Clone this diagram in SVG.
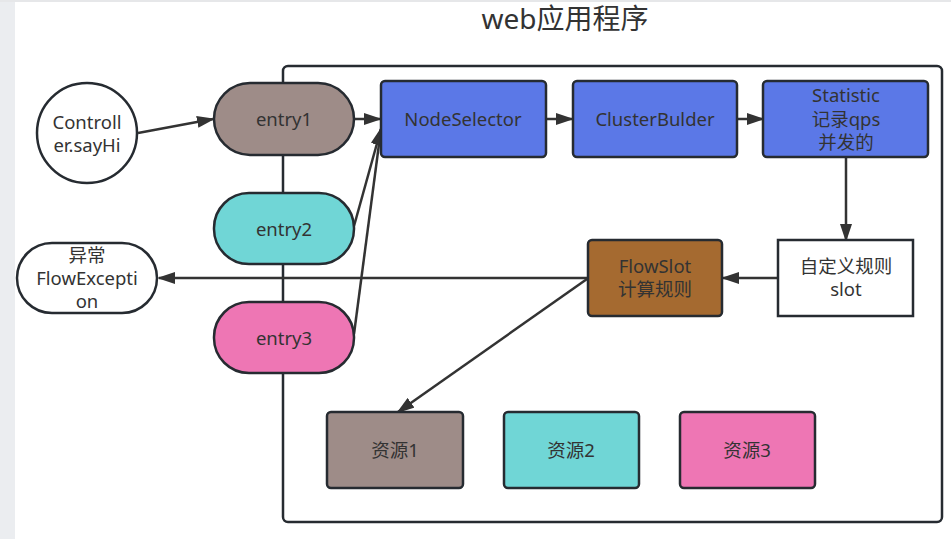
<svg xmlns="http://www.w3.org/2000/svg" width="951" height="539" viewBox="0 0 951 539">
<style>
.n{stroke:#262b31;stroke-width:2.5}
.t{font-family:"Noto Sans","Noto Sans CJK SC",sans-serif;font-size:18.5px;fill:#333;text-anchor:middle}
.c{stroke:#333;stroke-width:2.5;fill:none}
</style>
<defs>
<marker id="ah2" markerWidth="18" markerHeight="12" refX="16" refY="6" orient="auto" markerUnits="userSpaceOnUse" viewBox="0 0 18 12">
<path d="M0,0 L18,6 L0,12 Z" fill="#333"/>
</marker>
</defs>
<rect x="0" y="0" width="951" height="539" fill="#fff"/>
<rect x="0" y="0" width="15" height="539" fill="#ebedf0"/>
<rect x="0" y="0" width="951" height="2" fill="#e6e7e9"/>
<text x="565" y="29" style="font-family:'Noto Sans','Noto Sans CJK SC',sans-serif;font-size:28px;fill:#333;text-anchor:middle">web应用程序</text>
<g id="container"><rect x="283" y="66" width="659" height="456" rx="5" fill="none" class="n"/></g>
<g id="connectors">
<line x1="138" y1="133" x2="213" y2="119" class="c" marker-end="url(#ah2)"/>
<line x1="354" y1="119" x2="380" y2="119" class="c" marker-end="url(#ah2)"/>
<line x1="354" y1="226" x2="381" y2="129" class="c" marker-end="url(#ah2)"/>
<line x1="354" y1="334" x2="381" y2="129" class="c" marker-end="url(#ah2)"/>
<line x1="546" y1="119" x2="572" y2="119" class="c" marker-end="url(#ah2)"/>
<line x1="737" y1="119" x2="763" y2="119" class="c" marker-end="url(#ah2)"/>
<line x1="846" y1="157" x2="846" y2="240" class="c" marker-end="url(#ah2)"/>
<line x1="778" y1="278" x2="723" y2="278" class="c" marker-end="url(#ah2)"/>
<line x1="587" y1="278" x2="159" y2="278" class="c" marker-end="url(#ah2)"/>
<line x1="587" y1="279" x2="398" y2="412" class="c" marker-end="url(#ah2)"/>
</g>
<g id="controller"><circle cx="87" cy="133" r="50" fill="#fff" class="n"/><text class="t" x="87" y="129">Controll</text><text class="t" x="87" y="152">er.sayHi</text></g>
<g id="entry1"><rect x="214" y="83" width="140" height="72" rx="36" fill="#9e8c88" class="n"/><text class="t" x="284" y="126">entry1</text></g>
<g id="entry2"><rect x="214" y="193" width="140" height="71" rx="35" fill="#70d6d6" class="n"/><text class="t" x="284" y="236">entry2</text></g>
<g id="entry3"><rect x="214" y="302" width="140" height="71" rx="35" fill="#ee76b4" class="n"/><text class="t" x="284" y="345">entry3</text></g>
<g id="nodeSelector"><rect x="381" y="81" width="165" height="76" rx="4" fill="#5b78e7" class="n"/><text class="t" x="463" y="126">NodeSelector</text></g>
<g id="clusterBulder"><rect x="573" y="81" width="164" height="76" rx="4" fill="#5b78e7" class="n"/><text class="t" x="655" y="126">ClusterBulder</text></g>
<g id="statistic"><rect x="763" y="81" width="165" height="76" rx="4" fill="#5b78e7" class="n"/><text class="t" x="846" y="102">Statistic</text><text class="t" x="846" y="126">记录qps</text><text class="t" x="846" y="149">并发的</text></g>
<g id="customSlot"><rect x="778" y="240" width="135" height="76" fill="#fff" class="n"/><text class="t" x="846" y="273">自定义规则</text><text class="t" x="846" y="296">slot</text></g>
<g id="flowSlot"><rect x="588" y="240" width="134" height="76" rx="4" fill="#a56a30" class="n"/><text class="t" x="655" y="273">FlowSlot</text><text class="t" x="655" y="296">计算规则</text></g>
<g id="exception"><rect x="17" y="243" width="140" height="70" rx="35" fill="#fff" class="n"/><text class="t" x="87" y="262">异常</text><text class="t" x="87" y="285">FlowExcepti</text><text class="t" x="87" y="308">on</text></g>
<g id="res1"><rect x="327" y="412" width="136" height="76" rx="4" fill="#9e8c88" class="n"/><text class="t" x="395" y="457">资源1</text></g>
<g id="res2"><rect x="504" y="412" width="135" height="76" rx="4" fill="#70d6d6" class="n"/><text class="t" x="571" y="457">资源2</text></g>
<g id="res3"><rect x="680" y="412" width="135" height="76" rx="4" fill="#ee76b4" class="n"/><text class="t" x="747" y="457">资源3</text></g>
</svg>
